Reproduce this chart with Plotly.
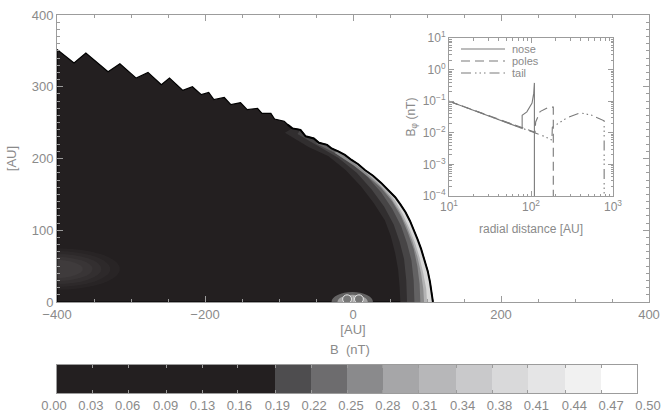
import plotly.graph_objects as go

# ---------------- data ----------------
# outer boundary of the dark (low-B) region, tail/flank part (jagged), [AU]
hp_tail_x = [-400, -377, -361, -331, -315, -293, -277, -259, -248, -230, -217, -205, -195, -188,
             -174, -165, -152, -143, -129, -123, -111, -106, -93, -88, -82, -71, -64, -53, -46,
             -35, -29, -20, -11, -2, 7]
hp_tail_y = [352, 333, 347, 321, 332, 312, 320, 303, 312, 295, 300, 289, 292, 282,
             285, 275, 278, 268, 270, 263, 263, 255, 252, 247, 242, 240, 231, 228, 222,
             219, 214, 210, 205, 198, 192]
# nose part of the boundary (heliopause)
hp_nose_x = [16, 27, 38, 48, 57, 64, 71, 77, 82, 87, 92, 97, 101, 104, 106, 108]
hp_nose_y = [184, 176, 166, 156, 146, 136, 125, 113, 101, 88, 74, 58, 43, 28, 14, 0]

# inner edges of the bright heliosheath shading levels (from dark to bright)
band_x = [
    [-92, -60, -33, -10, 11, 28, 43, 51, 57, 61, 63, 64],
    [-75, -45, -20, 5, 25, 42, 55, 63, 69, 72, 73],
    [-50, -25, 0, 20, 38, 53, 65, 73, 79, 82, 83],
    [-25, 0, 20, 38, 53, 65, 74, 82, 87, 90, 91],
    [0, 20, 36, 50, 62, 72, 80, 87, 92, 95, 96],
    [12, 30, 45, 57, 67, 76, 84, 90, 95, 99, 100],
]
band_y = [
    [236, 216, 203, 184, 161, 138, 114, 92, 68, 45, 21, 0],
    [234, 216, 201, 180, 157, 133, 108, 84, 60, 30, 0],
    [221, 208, 193, 174, 153, 130, 106, 82, 58, 30, 0],
    [208, 191, 175, 159, 140, 119, 97, 74, 50, 25, 0],
    [195, 178, 163, 147, 128, 107, 86, 63, 40, 18, 0],
    [186, 172, 157, 141, 123, 103, 82, 62, 40, 18, 0],
]
band_colors = ["#312e2f", "#474546", "#636263", "#8a8a8b", "#b3b3b4", "#d8d8d8"]

# colour bar levels
cb_edges = [0.0, 0.031, 0.062, 0.094, 0.125, 0.156, 0.188, 0.219, 0.25, 0.281, 0.312,
            0.344, 0.375, 0.406, 0.438, 0.469, 0.5]
cb_labels = ["0.00", "0.03", "0.06", "0.09", "0.13", "0.16", "0.19", "0.22", "0.25", "0.28",
             "0.31", "0.34", "0.38", "0.41", "0.44", "0.47", "0.50"]
cb_colors = ["#231f20", "#231f20", "#231f20", "#231f20", "#231f20", "#231f20",
             "#4e4d4f", "#6d6c6e", "#8a8a8c", "#a6a6a8", "#b7b7b9", "#c9c9cb",
             "#d9d9da", "#e5e5e6", "#f1f1f1", "#ffffff"]

# inset: B_phi along radial lines [AU], [nT]
nose_r = [10, 20, 40, 60, 78, 78, 89, 103, 108, 110, 110]
nose_b = [0.1, 0.052, 0.027, 0.018, 0.0138, 0.036, 0.046, 0.087, 0.18, 0.38, 1e-5]
poles_r = [10, 20, 40, 60, 80, 100, 112, 114, 129, 163, 187, 187]
poles_b = [0.1, 0.052, 0.027, 0.018, 0.0136, 0.0113, 0.0104, 0.022, 0.047, 0.064, 0.065, 1e-5]
tail_r = [10, 20, 40, 60, 80, 100, 112, 140, 180, 182, 276, 398, 550, 755, 780, 780]
tail_b = [0.1, 0.052, 0.027, 0.018, 0.0136, 0.0113, 0.0104, 0.008, 0.0059, 0.015, 0.030,
          0.043, 0.036, 0.025, 0.024, 1e-5]

# ---------------- styling ----------------
W, H = 662, 418
FONT = "Liberation Sans"
TXT = "#8a8a8a"
AXC = "#9c9c9c"
DARK = "#231f20"
LINEC = "#7a7a7a"


def px_x(a, b):
    return [a / W, b / W]


def px_y(top, bottom):
    return [(H - bottom) / H, (H - top) / H]


fig = go.Figure()

# dark region polygon
dark_x = [-400] + hp_tail_x + hp_nose_x + [-400]
dark_y = [0] + hp_tail_y + hp_nose_y + [0]
fig.add_trace(go.Scatter(x=dark_x, y=dark_y, mode="lines", fill="toself",
                         fillcolor=DARK, line=dict(color="black", width=1.2),
                         hoverinfo="skip", showlegend=False))

hp_all_x = hp_tail_x + hp_nose_x
hp_all_y = hp_tail_y + hp_nose_y
for bx, by, col in zip(band_x, band_y, band_colors):
    sel = [(x, y) for x, y in zip(hp_all_x, hp_all_y) if y <= by[0] + 8 and x > bx[0]]
    px = bx + [p[0] for p in reversed(sel)]
    py = by + [p[1] for p in reversed(sel)]
    fig.add_trace(go.Scatter(x=px, y=py, mode="lines", fill="toself", fillcolor=col,
                             line=dict(width=0, color=col), hoverinfo="skip",
                             showlegend=False))

# heliopause outline at the nose
out_x = [x for x in hp_all_x if x >= -90]
out_y = [y for x, y in zip(hp_all_x, hp_all_y) if x >= -90]
fig.add_trace(go.Scatter(x=out_x, y=out_y, mode="lines",
                         line=dict(color="black", width=2), hoverinfo="skip",
                         showlegend=False))

# inset curves
fig.add_trace(go.Scatter(x=nose_r, y=nose_b, xaxis="x4", yaxis="y4", mode="lines",
                         line=dict(color=LINEC, width=1.1), showlegend=False))
fig.add_trace(go.Scatter(x=poles_r, y=poles_b, xaxis="x4", yaxis="y4", mode="lines",
                         line=dict(color=LINEC, width=1.1, dash="9px,5px"), showlegend=False))
fig.add_trace(go.Scatter(x=tail_r, y=tail_b, xaxis="x4", yaxis="y4", mode="lines",
                         line=dict(color=LINEC, width=1.1,
                                   dash="10px,4px,1.5px,3px,1.5px,3px,1.5px,4px"),
                         showlegend=False))

# colour bar
cb_mid = [(a + b) / 2 for a, b in zip(cb_edges[:-1], cb_edges[1:])]
cscale = []
for i, c in enumerate(cb_colors):
    cscale.append([i / len(cb_colors), c])
    cscale.append([(i + 1) / len(cb_colors), c])
fig.add_trace(go.Heatmap(x=cb_edges, y=[0, 1], z=[cb_mid], xaxis="x2", yaxis="y2",
                         colorscale=cscale, zmin=0, zmax=0.5, showscale=False,
                         hoverinfo="skip"))
# invisible carrier trace so the colour-bar label axis is drawn
fig.add_trace(go.Scatter(x=[cb_edges[0], cb_edges[-1]], y=[0.5, 0.5], xaxis="x3", yaxis="y3",
                         mode="lines", line=dict(width=0, color="rgba(0,0,0,0)"),
                         hoverinfo="skip", showlegend=False))

axis_common = dict(showline=True, linecolor=AXC, linewidth=1, mirror="ticks",
                   ticks="inside", tickcolor=AXC, showgrid=False, zeroline=False,
                   automargin=False,
                   tickfont=dict(family=FONT, size=13, color=TXT))

fig.update_layout(
    width=W, height=H, margin=dict(l=0, r=0, t=0, b=0),
    paper_bgcolor="white", plot_bgcolor="rgba(0,0,0,0)",
    font=dict(family=FONT, color=TXT),
    xaxis=dict(domain=px_x(57, 649), range=[-400, 400], dtick=200, tick0=0,
               ticklen=6, minor=dict(dtick=50, ticks="inside", ticklen=3, tickcolor=AXC),
               title=dict(text="[AU]", font=dict(size=13, color=TXT), standoff=1),
               anchor="y", **axis_common),
    yaxis=dict(domain=px_y(15, 302), range=[0, 400], dtick=100, tick0=0,
               ticklen=6, minor=dict(dtick=10, ticks="inside", ticklen=3, tickcolor=AXC),
               title=dict(text="[AU]", font=dict(size=13, color=TXT), standoff=12),
               anchor="x", **axis_common),
    xaxis2=dict(domain=px_x(57, 637), range=[0, 0.5], anchor="y2",
                tickvals=cb_edges, showticklabels=False, ticklen=3,
                showline=True, linecolor=AXC, mirror="ticks", ticks="inside",
                tickcolor=AXC, showgrid=False, zeroline=False, automargin=False),
    yaxis2=dict(domain=px_y(365, 393), range=[0, 1], anchor="x2", showticklabels=False,
                ticks="", showline=True, linecolor=AXC, mirror=True, showgrid=False,
                zeroline=False, automargin=False),
    xaxis3=dict(domain=px_x(54, 648), range=[0, 0.5], anchor="y3",
                tickvals=cb_edges, ticktext=cb_labels, ticks="", showline=False,
                showgrid=False, zeroline=False, automargin=False,
                tickfont=dict(family=FONT, size=13, color=TXT)),
    yaxis3=dict(domain=px_y(394, 396), range=[0, 1], anchor="x3", visible=False,
                automargin=False),
    xaxis4=dict(domain=px_x(449, 613), type="log", range=[1, 3], anchor="y4",
                tickvals=[10, 100, 1000],
                ticktext=["10<sup>1</sup>", "10<sup>2</sup>", "10<sup>3</sup>"],
                ticklen=5,
                minor=dict(tickvals=[k * 10 ** e for e in (1, 2) for k in range(2, 10)],
                           ticks="inside", ticklen=2.5, tickcolor=AXC),
                title=dict(text="radial distance [AU]", font=dict(size=12, color=TXT),
                           standoff=11),
                **{**axis_common, "tickfont": dict(family=FONT, size=12, color=TXT)}),
    yaxis4=dict(domain=px_y(38, 196), type="log", range=[-4, 1], anchor="x4",
                tickvals=[1e-4, 1e-3, 1e-2, 1e-1, 1, 10],
                ticktext=["10<sup>\u22124</sup>", "10<sup>\u22123</sup>", "10<sup>\u22122</sup>",
                          "10<sup>\u22121</sup>", "10<sup>0</sup>", "10<sup>1</sup>"],
                ticklen=5,
                minor=dict(tickvals=[k * 10.0 ** e for e in (-4, -3, -2, -1, 0)
                                     for k in range(2, 10)],
                           ticks="inside", ticklen=2.5, tickcolor=AXC),
                title=dict(text="B<sub>\u03c6</sub> (nT)", font=dict(size=12, color=TXT),
                           standoff=4),
                **{**axis_common, "tickfont": dict(family=FONT, size=12, color=TXT)}),
)

# sun / inner features and faint tail glow (decoration shapes)
shapes = []
for (x0, x1, y0, y1, op) in [(-485, -315, 17, 75, 0.025), (-475, -328, 21, 71, 0.025),
                             (-465, -340, 25, 67, 0.03), (-455, -352, 29, 63, 0.03),
                             (-445, -365, 33, 59, 0.03)]:
    shapes.append(dict(type="circle", xref="x", yref="y", x0=x0, x1=x1, y0=y0, y1=y1,
                       fillcolor="white", opacity=op, line=dict(width=0), layer="above"))
for (x0, x1, y0, y1, col, op) in [(-29, 27, -14, 14, "#9a9a9a", 0.55),
                                  (-21, 20, -10, 10, "#d0d0d0", 0.6)]:
    shapes.append(dict(type="circle", xref="x", yref="y", x0=x0, x1=x1, y0=y0, y1=y1,
                       fillcolor=col, opacity=op, line=dict(width=0), layer="above"))
for cx in (-8, 8):
    shapes.append(dict(type="circle", xref="x", yref="y", x0=cx - 6, x1=cx + 6, y0=-2, y1=10,
                       fillcolor="#777", line=dict(color="#e8e8e8", width=1), layer="above"))

# manual legend inside inset
leg = [("nose", "solid", 49), ("poles", "9px,5px", 61),
       ("tail", "10px,4px,1.5px,3px,1.5px,3px,1.5px,4px", 73)]
annotations = []
for name, dash, yy in leg:
    shapes.append(dict(type="line", xref="paper", yref="paper",
                       x0=461 / W, x1=505 / W, y0=(H - yy) / H, y1=(H - yy) / H,
                       line=dict(color=LINEC, width=1.1, dash=dash)))
    annotations.append(dict(xref="paper", yref="paper", x=511 / W, y=(H - yy) / H,
                            text=name, showarrow=False, xanchor="left", yanchor="middle",
                            font=dict(family=FONT, size=11, color=TXT),
                            borderpad=0))
annotations.append(dict(xref="paper", yref="paper", x=350 / W, y=(H - 349) / H,
                        text="B  (nT)", showarrow=False, xanchor="center", yanchor="middle",
                        font=dict(family=FONT, size=13, color=TXT)))
fig.update_layout(shapes=shapes, annotations=annotations)

fig.write_html("out.html", config={"displayModeBar": False},
               post_script="document.body.style.margin='0';document.body.style.overflow='hidden';")
